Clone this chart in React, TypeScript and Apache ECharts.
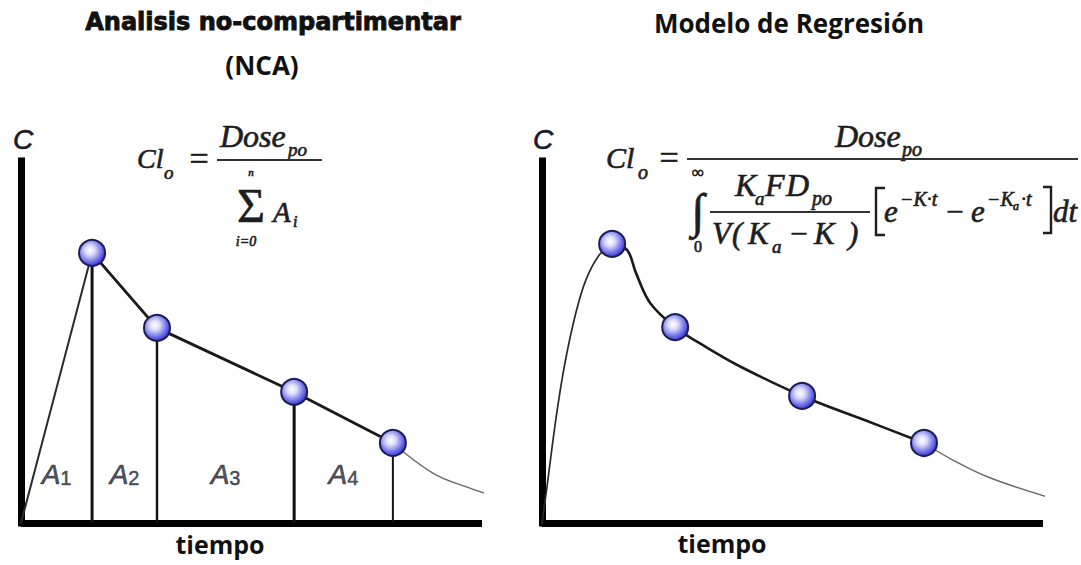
import { useEffect, useRef } from 'react';
import * as echarts from 'echarts';

// Muestreo no-compartimental: tiempos y concentraciones observadas (escala 0-12 h, 0-100 %)
const ncaTimes = [0, 1.85, 3.54, 7.11, 9.68];
const ncaConc = [0, 74.6, 53.9, 36.2, 22.1];
// Cola de eliminación tras la última muestra
const ncaTailTimes = [9.68, 10.72, 11.61, 12.23];
const ncaTailConc = [22.1, 13.8, 9.9, 7.7];
const areaNames = ['1', '2', '3', '4'];

// Modelo de regresión: muestras y curva ajustada
const regTimes = [1.68, 3.19, 6.23, 9.15];
const regConc = [77.1, 54.1, 35.1, 22.1];
const fitTimes = [0, 0.1, 0.34, 0.55, 0.81, 1.05, 1.37, 1.68, 2.04, 2.25, 2.59, 3.19, 3.93, 4.77, 6.23, 7.71, 9.15, 9.84, 10.68, 12.1];
const fitConc = [0, 8.3, 29.3, 44.2, 58.0, 67.1, 74.0, 77.1, 75.4, 69.1, 60.8, 54.1, 48.6, 43.1, 35.1, 28.5, 22.1, 17.4, 12.7, 7.2];
const PEAK_IDX = 7;
const LAST_IDX = 16;

const SERIF = '"Liberation Serif", "DejaVu Serif", serif';
const SANS = '"Open Sans", "Liberation Sans", sans-serif';
const INK = '#1e1e1e';

const pairs = (xs: number[], ys: number[]) => xs.map((x, i) => [x, ys[i]]);

// Texto matemático posicionado por línea base
function mt(text: string, x: number, baseline: number, size: number, opts: { upright?: boolean; align?: string; lineHeight?: number } = {}) {
  return {
    type: 'text',
    silent: true,
    z: 10,
    style: {
      text,
      x,
      y: baseline - 0.3375 * size,
      fontSize: size,
      fontFamily: SERIF,
      fontStyle: opts.upright ? 'normal' : 'italic',
      fill: INK,
      stroke: INK,
      lineWidth: 0.65,
      align: opts.align || 'left',
      verticalAlign: 'middle',
      ...(opts.lineHeight ? { lineHeight: opts.lineHeight } : {}),
    },
  };
}

function rule(x1: number, x2: number, y: number, w: number) {
  return { type: 'line', silent: true, z: 10, shape: { x1, y1: y, x2, y2: y }, style: { stroke: '#333', lineWidth: w } };
}

function bracket(pts: number[][]) {
  return { type: 'polyline', silent: true, z: 10, shape: { points: pts }, style: { stroke: INK, lineWidth: 2.4, fill: null } };
}

function label(text: string, x: number, y: number, size: number, family: string, extra: any = {}) {
  return {
    type: 'text',
    silent: true,
    z: 10,
    style: { text, x, y, fontSize: size, fontFamily: family, fontWeight: 'bold', fill: '#111', align: 'center', verticalAlign: 'middle', ...extra },
  };
}

function buildOption() {
  const sphere = new echarts.graphic.RadialGradient(0.42, 0.4, 0.62, [
    { offset: 0, color: '#ffffff' },
    { offset: 0.3, color: '#dcdcfa' },
    { offset: 0.75, color: '#6a6ae8' },
    { offset: 1, color: '#3434cc' },
  ]);

  const line = (gi: number, data: number[][], width: number, color: string, extra: any = {}) => ({
    type: 'line',
    xAxisIndex: gi,
    yAxisIndex: gi,
    data,
    symbol: 'none',
    showSymbol: false,
    clip: false,
    silent: true,
    z: 3,
    lineStyle: { width, color, cap: 'round', join: 'round' },
    ...extra,
  });

  const markers = (gi: number, data: number[][]) => ({
    type: 'scatter',
    xAxisIndex: gi,
    yAxisIndex: gi,
    data,
    symbol: 'circle',
    symbolSize: 26,
    silent: true,
    z: 6,
    itemStyle: { color: sphere, borderColor: '#1d1d55', borderWidth: 2, opacity: 1 },
  });

  const vertWidths = [3, 2.4, 3, 2];
  const verticals = ncaTimes.slice(1).map((t, i) => line(0, [[t, 0], [t, ncaConc[i + 1]]], vertWidths[i], '#111', { lineStyle: { width: vertWidths[i], color: '#111', cap: 'butt' } }));

  const areaLabelLevel = 13.5;
  const labelFont = '"Liberation Sans", sans-serif';
  const labelInk = '#262632';
  const areaLabels = {
    type: 'scatter',
    xAxisIndex: 0,
    yAxisIndex: 0,
    silent: true,
    z: 5,
    symbolSize: 1,
    itemStyle: { color: '#ffffff' },
    data: areaNames.map((n, i) => ({ value: [(ncaTimes[i] + ncaTimes[i + 1]) / 2, areaLabelLevel], name: n })),
    label: {
      show: true,
      position: 'inside',
      color: labelInk,
      formatter: (p: any) => `{a|A}{n|${p.name}}`,
      rich: {
        a: { fontSize: 28, lineHeight: 28, fontStyle: 'italic', fontFamily: labelFont, color: labelInk, textBorderColor: labelInk, textBorderWidth: 0.7, verticalAlign: 'bottom' },
        n: { fontSize: 20, lineHeight: 19, fontFamily: labelFont, color: labelInk, textBorderColor: labelInk, textBorderWidth: 0.5, verticalAlign: 'bottom' },
      },
    },
  };

  const hidden = { axisTick: { show: false }, axisLabel: { show: false }, splitLine: { show: false } };
  const cStyle = { fontStyle: 'italic', fontWeight: 'normal', fill: '#1a1a2a', stroke: '#1a1a2a', lineWidth: 0.6 };

  const graphic: any[] = [
    // títulos
    label('Analisis no-compartimentar', 273, 22, 24, '"DejaVu Sans", sans-serif', { stroke: '#111', lineWidth: 0.9 }),
    label('(NCA)', 262, 65, 26, SANS),
    label('Modelo de Regresión', 789, 23, 26, SANS),
    label('tiempo', 220, 544, 25, SANS),
    label('tiempo', 722, 543, 25, SANS),
    label('C', 23, 139, 28, labelFont, cStyle),
    label('C', 543, 139, 28, labelFont, cStyle),

    // Cl_o = Dose_po / Σ A_i
    mt('Cl', 137, 168, 28),
    mt('o', 164, 179, 19),
    mt('=', 199, 170, 34, { upright: true, align: 'center' }),
    mt('Dose', 220, 147, 32),
    mt('po', 288, 156, 19),
    rule(217, 322, 160, 2),
    mt('n', 251, 176, 11, { align: 'center', lineHeight: 10 }),
    mt('Σ', 251, 222, 48, { upright: true, align: 'center', lineHeight: 33 }),
    mt('A', 273, 222, 29),
    mt('i', 293, 227, 16),
    mt('i=0', 246, 246, 14, { align: 'center' }),

    // Cl_o = Dose_po / ∫ K_a F D_po / (V(K_a − K)) [e^{−K·t} − e^{−K_a·t}] dt
    mt('Cl', 606, 168, 30),
    mt('o', 638, 179, 20),
    mt('=', 669, 169, 34, { upright: true, align: 'center' }),
    mt('Dose', 835, 147, 32),
    mt('po', 902, 156, 20),
    rule(687, 1078, 159, 2),
    mt('∞', 698, 178, 17, { upright: true, align: 'center' }),
    mt('∫', 698, 227, 48, { upright: true, align: 'center' }),
    mt('0', 698, 252, 16, { upright: true, align: 'center' }),
    mt('K', 735, 196, 32),
    mt('a', 755, 205, 19),
    mt('F', 765, 196, 32),
    mt('D', 786, 196, 32),
    mt('po', 812, 205, 20),
    rule(710, 870, 212, 1.8),
    mt('V', 712, 244, 31),
    mt('(', 732, 244, 31),
    mt('K', 748, 244, 31),
    mt('a', 772, 253, 19),
    mt('−', 799, 244, 31, { upright: true, align: 'center' }),
    mt('K', 814, 244, 31),
    mt(')', 848, 244, 31),
    bracket([[885, 188], [876, 188], [876, 235], [885, 235]]),
    mt('e', 884, 222, 31),
    mt('−K·t', 900, 206, 20),
    mt('−', 955, 222, 31, { upright: true, align: 'center' }),
    mt('e', 971, 222, 31),
    mt('−K', 987, 206, 20),
    mt('a', 1013, 210, 12),
    mt('·t', 1021, 206, 20),
    bracket([[1043, 187], [1051, 187], [1051, 233], [1043, 233]]),
    mt('dt', 1053, 222, 31),
  ];

  return {
    animation: false,
    backgroundColor: '#ffffff',
    grid: [
      { left: 21, top: 161, width: 461, height: 362 },
      { left: 542, top: 161, width: 501, height: 362 },
    ],
    xAxis: [0, 1].map((gi) => ({
      type: 'value',
      gridIndex: gi,
      min: 0,
      max: 12,
      axisLine: { show: true, onZero: false, lineStyle: { color: '#000', width: 7, cap: 'butt' } },
      ...hidden,
    })),
    yAxis: [0, 1].map((gi) => ({
      type: 'value',
      gridIndex: gi,
      min: 0,
      max: 100,
      axisLine: { show: true, onZero: false, lineStyle: { color: '#000', width: 7, cap: 'square' } },
      ...hidden,
    })),
    graphic,
    series: [
      // NCA: trapecios
      line(0, pairs(ncaTimes.slice(0, 2), ncaConc.slice(0, 2)), 2, '#2a2a2a'),
      line(0, pairs(ncaTimes.slice(1), ncaConc.slice(1)), 2.8, '#1a1a1a'),
      line(0, pairs(ncaTailTimes, ncaTailConc), 1.4, '#6a6a6a', { smooth: 0.4 }),
      ...verticals,
      markers(0, pairs(ncaTimes.slice(1), ncaConc.slice(1))),
      areaLabels,
      // Regresión: curva ajustada
      line(1, pairs(fitTimes.slice(0, PEAK_IDX + 1), fitConc.slice(0, PEAK_IDX + 1)), 1.7, '#2a2a2a', { smooth: 0.35 }),
      line(1, pairs(fitTimes.slice(PEAK_IDX, LAST_IDX + 1), fitConc.slice(PEAK_IDX, LAST_IDX + 1)), 2.6, '#1a1a1a', { smooth: 0.35 }),
      line(1, pairs(fitTimes.slice(LAST_IDX), fitConc.slice(LAST_IDX)), 1.4, '#6a6a6a', { smooth: 0.4 }),
      markers(1, pairs(regTimes, regConc)),
    ],
  };
}

export default function App() {
  const ref = useRef<HTMLDivElement>(null);
  useEffect(() => {
    const chart = echarts.init(ref.current!, null, { renderer: 'svg' });
    chart.setOption(buildOption() as any);
    return () => chart.dispose();
  }, []);
  return <div ref={ref} style={{ position: 'fixed', left: 0, top: 0, width: 1081, height: 565, background: '#fff' }} />;
}
